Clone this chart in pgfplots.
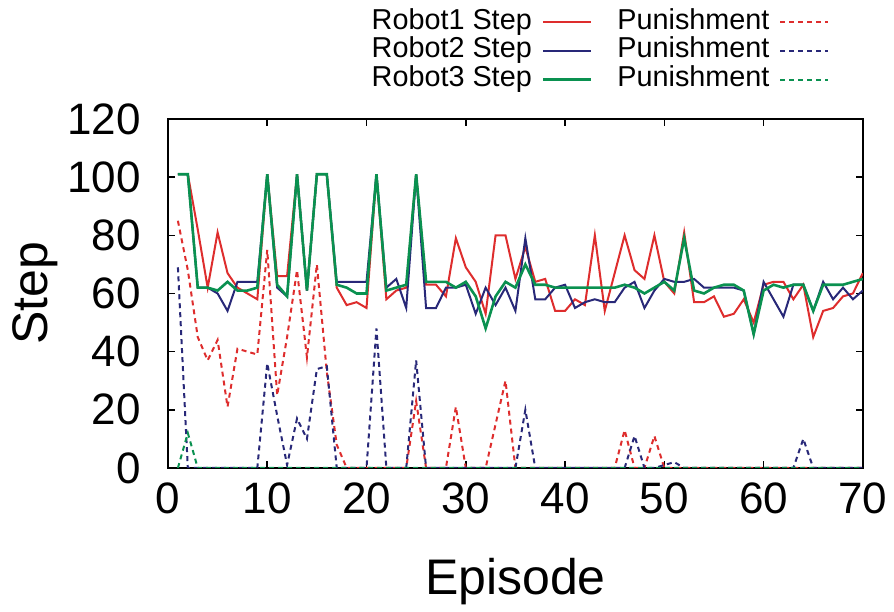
\documentclass[border=0pt]{standalone}
\usepackage{pgfplots}
\pgfplotsset{compat=1.18}
\usepackage{fontspec}
\setmainfont{Liberation Sans}
\definecolor{rred}{RGB}{222,45,45}
\definecolor{bblue}{RGB}{40,40,120}
\definecolor{ggreen}{RGB}{10,145,80}

% step per episode
\pgfplotstableread{
x y
1 101
2 101
3 82
4 62
5 81
6 67
7 62
8 60
9 58
10 101
11 66
12 66
13 101
14 61
15 101
16 101
17 62
18 56
19 57
20 55
21 101
22 58
23 61
24 62
25 101
26 63
27 63
28 59
29 79
30 69
31 64
32 53
33 80
34 80
35 65
36 76
37 64
38 65
39 54
40 54
41 58
42 56
43 80
44 54
45 67
46 80
47 68
48 65
49 80
50 64
51 60
52 81
53 57
54 57
55 59
56 52
57 53
58 58
59 50
60 63
61 64
62 64
63 58
64 63
65 45
66 54
67 55
68 59
69 60
70 67
}\stepA
\pgfplotstableread{
x y
1 101
2 101
3 62
4 62
5 60
6 54
7 64
8 64
9 64
10 101
11 62
12 59
13 101
14 61
15 101
16 101
17 64
18 64
19 64
20 64
21 101
22 62
23 65
24 55
25 101
26 55
27 55
28 62
29 62
30 63
31 53
32 62
33 56
34 62
35 54
36 79
37 58
38 58
39 62
40 63
41 55
42 57
43 58
44 57
45 57
46 62
47 64
48 55
49 61
50 65
51 64
52 64
53 65
54 62
55 62
56 62
57 62
58 61
59 46
60 64
61 58
62 52
63 63
64 63
65 54
66 64
67 58
68 62
69 58
70 61
}\stepB
\pgfplotstableread{
x y
1 101
2 101
3 62
4 62
5 61
6 64
7 61
8 61
9 62
10 101
11 63
12 59
13 101
14 61
15 101
16 101
17 63
18 62
19 60
20 60
21 101
22 61
23 62
24 63
25 101
26 64
27 64
28 64
29 62
30 64
31 59
32 48
33 59
34 64
35 62
36 70
37 63
38 63
39 62
40 62
41 62
42 62
43 62
44 62
45 62
46 63
47 62
48 60
49 62
50 64
51 61
52 79
53 61
54 60
55 62
56 63
57 63
58 61
59 46
60 61
61 63
62 62
63 63
64 63
65 54
66 63
67 63
68 63
69 64
70 65
}\stepC

% punishment per episode
\pgfplotstableread{
x y
1 85
2 68
3 45
4 37
5 44
6 21
7 41
8 40
9 39
10 75
11 25
12 45
13 68
14 38
15 70
16 33
17 8
18 0
19 0
20 0
21 0
22 0
23 0
24 0
25 23
26 0
27 0
28 0
29 21
30 0
31 0
32 0
33 15
34 30
35 0
36 0
37 0
38 0
39 0
40 0
41 0
42 0
43 0
44 0
45 0
46 13
47 0
48 0
49 11
50 0
51 0
52 0
53 0
54 0
55 0
56 0
57 0
58 0
59 0
60 0
61 0
62 0
63 0
64 0
65 0
66 0
67 0
68 0
69 0
70 0
}\punA
\pgfplotstableread{
x y
1 69
2 0
3 0
4 0
5 0
6 0
7 0
8 0
9 0
10 36
11 18
12 1
13 17
14 10
15 34
16 35
17 0
18 0
19 0
20 0
21 48
22 0
23 0
24 0
25 37
26 0
27 0
28 0
29 0
30 0
31 0
32 0
33 0
34 0
35 0
36 20
37 0
38 0
39 0
40 0
41 0
42 0
43 0
44 0
45 0
46 0
47 11
48 0
49 0
50 1
51 2
52 0
53 0
54 0
55 0
56 0
57 0
58 0
59 0
60 0
61 0
62 0
63 0
64 10
65 0
66 0
67 0
68 0
69 0
70 0
}\punB
\pgfplotstableread{
x y
1 0
2 12
3 0
4 0
10 0
20 0
30 0
40 0
50 0
60 0
70 0
}\punC

\begin{document}
\begin{tikzpicture}
\begin{axis}[
    name=ax,
    scale only axis,
    width=347.5pt, height=174.5pt,
    xmin=0, xmax=70, ymin=0, ymax=120,
    xtick={0,10,...,70}, ytick={0,20,...,120},
    tick align=inside, major tick length=3.5pt,
    axis line style={line width=0.8pt},
    every tick/.style={black, line width=0.8pt},
    tick label style={font=\fontsize{22}{24}\selectfont},
    xticklabel style={yshift=-4pt},
    yticklabel style={xshift=-10pt},
    /pgf/number format/assume math mode=true,
    xlabel={Episode}, ylabel={Step},
    label style={font=\fontsize{25}{28}\selectfont},
    xlabel style={yshift=-15pt},
    ylabel style={yshift=-2pt},
    legend plot pos=right,
    legend columns=3, transpose legend,
    legend cell align=right,
    legend image code/.code={\draw[#1] (0pt,0pt) -- (24pt,0pt);},
    legend style={draw=none, fill=none, at={(rel axis cs:1,1)}, anchor=north east,
        xshift=-16.5pt, yshift=55.5pt, inner sep=0pt,
        font=\fontsize{14.4}{15}\selectfont, column sep=5pt, row sep=0.3pt,
        nodes={inner sep=0pt, text height=10.5pt, text depth=3.5pt}},
]
\addplot[rred, line width=1pt] table {\stepA};
\addlegendentry{Robot1 Step}
\addplot[bblue, line width=1pt] table {\stepB};
\addlegendentry{Robot2 Step}
\addplot[ggreen, line width=1.3pt] table {\stepC};
\addlegendentry{Robot3 Step}
\addplot[rred, line width=1pt, dash pattern=on 2.5pt off 2pt] table {\punA};
\addlegendentry{\hspace{7.5pt}Punishment}
\addplot[bblue, line width=1pt, dash pattern=on 2.5pt off 2pt] table {\punB};
\addlegendentry{\hspace{7.5pt}Punishment}
\addplot[ggreen, line width=1pt, dash pattern=on 2.5pt off 2pt] table {\punC};
\addlegendentry{\hspace{7.5pt}Punishment}
\end{axis}
\path ([xshift=-84pt,yshift=59.5pt]ax.north west) rectangle ([xshift=15.5pt,yshift=-65.5pt]ax.south east);
\end{tikzpicture}
\end{document}
